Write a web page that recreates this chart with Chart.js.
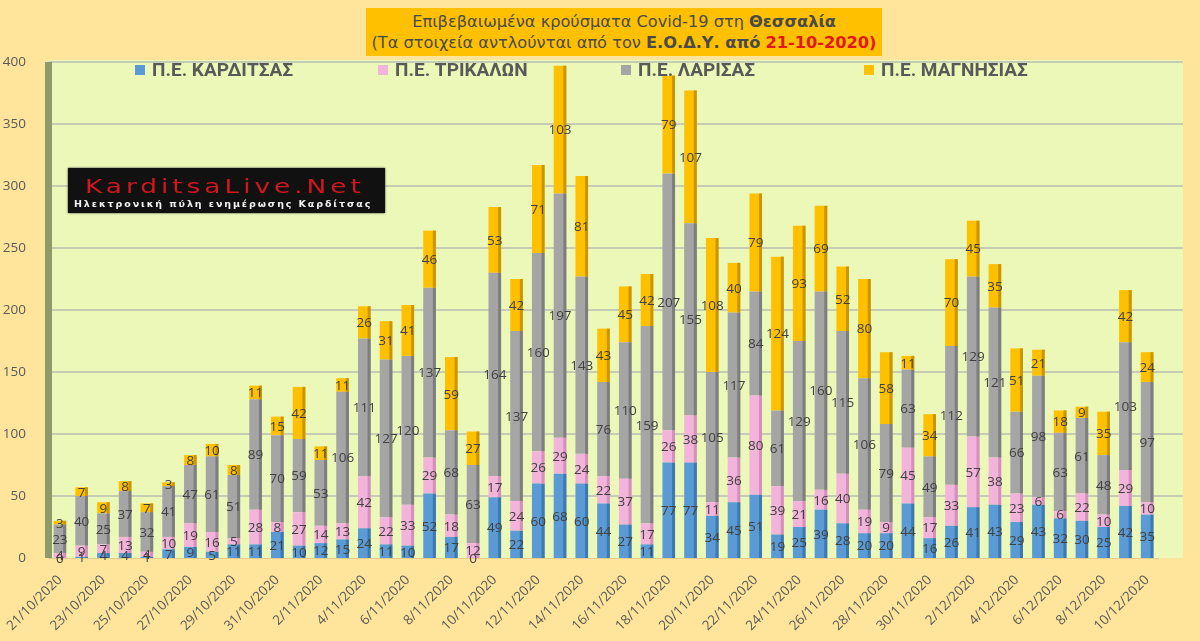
<!DOCTYPE html>
<html>
<head>
<meta charset="utf-8">
<script src="https://cdn.jsdelivr.net/npm/chart.js@4.4.1/dist/chart.umd.min.js"></script>
<style>
html,body{margin:0;padding:0;background:#FFE59B;width:1200px;height:641px;overflow:hidden;}
#wrap{position:relative;width:1200px;height:641px;}
#chart{position:absolute;left:0;top:0;}
#title{position:absolute;left:366px;top:8px;width:516px;height:48px;background:#FFC000;
  font-family:"DejaVu Sans",sans-serif;font-size:16.2px;line-height:21px;color:#4a4a4a;
  text-align:center;padding-top:3px;box-sizing:border-box;white-space:nowrap;}
#title .red{color:#E3161C;font-weight:bold;}
#logo{position:absolute;left:68px;top:168px;width:317px;height:45px;background:#111;box-shadow:0 0 2px #333;}
#logo .big{position:absolute;left:17px;top:6px;font-family:"DejaVu Sans",sans-serif;font-size:20px;
  letter-spacing:3px;color:#D0161E;transform:scaleX(1.32);transform-origin:left top;white-space:nowrap;}
#logo .small{position:absolute;left:6px;top:30px;font-family:"DejaVu Sans",sans-serif;font-weight:bold;
  font-size:9.5px;letter-spacing:1.9px;color:#f2f2f2;white-space:nowrap;}
</style>
</head>
<body>
<div id="wrap">
  <canvas id="chart" width="1200" height="641"></canvas>
  <div id="title">Επιβεβαιωμένα κρούσματα Covid-19 στη <b>Θεσσαλία</b><br>(Τα στοιχεία αντλούνται από τον <b>Ε.Ο.Δ.Υ. από</b> <span class="red">21-10-2020)</span></div>
  <div id="logo"><div class="big">KarditsaLive.Net</div><div class="small">Ηλεκτρονική πύλη ενημέρωσης Καρδίτσας</div></div>
</div>
<script>
// ---- DATA ----
const dates = [
  "21/10/2020","22/10/2020","23/10/2020","24/10/2020","25/10/2020","26/10/2020","27/10/2020","28/10/2020","29/10/2020","30/10/2020","31/10/2020",
  "1/11/2020","2/11/2020","3/11/2020","4/11/2020","5/11/2020","6/11/2020","7/11/2020","8/11/2020","9/11/2020","10/11/2020",
  "11/11/2020","12/11/2020","13/11/2020","14/11/2020","15/11/2020","16/11/2020","17/11/2020","18/11/2020","19/11/2020","20/11/2020",
  "21/11/2020","22/11/2020","23/11/2020","24/11/2020","25/11/2020","26/11/2020","27/11/2020","28/11/2020","29/11/2020","30/11/2020",
  "1/12/2020","2/12/2020","3/12/2020","4/12/2020","5/12/2020","6/12/2020","7/12/2020","8/12/2020","9/12/2020","10/12/2020"
];
const karditsa = [0,1,4,4,1,7,9,5,11,11,21, 10,12,15,24,11,10,52,17,0,49, 22,60,68,60,44,27,11,77,77,34, 45,51,19,25,39,28,20,20,44,16, 26,41,43,29,43,32,30,25,42,35];
const trikala  = [4,9,7,13,4,10,19,16,5,28,8, 27,14,13,42,22,33,29,18,12,17, 24,26,29,24,22,37,17,26,38,11, 36,80,39,21,16,40,19,9,45,17, 33,57,38,23,6,6,22,10,29,10];
const larisa   = [23,40,25,37,32,41,47,61,51,89,70, 59,53,106,111,127,120,137,68,63,164, 137,160,197,143,76,110,159,207,155,105, 117,84,61,129,160,115,106,79,63,49, 112,129,121,66,98,63,61,48,103,97];
const magnisia = [3,7,9,8,7,3,8,10,8,11,15, 42,11,11,26,31,41,46,59,27,53, 42,71,103,81,43,45,42,79,107,108, 40,79,124,93,69,52,80,58,11,34, 70,45,35,51,21,18,9,35,42,24];
const seriesNames = ["Π.Ε. ΚΑΡΔΙΤΣΑΣ","Π.Ε. ΤΡΙΚΑΛΩΝ","Π.Ε. ΛΑΡΙΣΑΣ","Π.Ε. ΜΑΓΝΗΣΙΑΣ"];
const yMin = 0, yMax = 400, yStep = 50;

// ---- STYLE ----
const colors = ["#5B9BD5","#F3B4DC","#A5A5A5","#FFC000"];
const shades = ["#3E78B0","#D48FBC","#7E7E7E","#C99600"];
const PLOT_BG = "#ECF8B8";
const GRID = "#C6CBB3";
const WALL = "#8E9A69";
const EXTRA_RIGHT = 25;

// software-backed 2D context (Chart.js reuses this same context)
const canvasEl = document.getElementById('chart');
canvasEl.getContext('2d', { willReadFrequently: true });

function drawGrid(chart, ctx){
  const ca = chart.chartArea, ys = chart.scales.y;
  ctx.fillStyle = GRID;
  for (let v = yMin + yStep; v <= yMax; v += yStep) {
    const py = Math.round(ys.getPixelForValue(v));
    ctx.fillRect(ca.left, py - 1, ca.width + EXTRA_RIGHT, 2);
  }
}

const bgPlugin = {
  id:'plotBg',
  beforeDatasetsDraw(chart){
    const ctx = chart.ctx, ca = chart.chartArea;
    ctx.save();
    ctx.fillStyle = PLOT_BG;
    ctx.fillRect(ca.left, ca.top - 2, ca.width + EXTRA_RIGHT, ca.height + 2);
    drawGrid(chart, ctx);
    ctx.fillStyle = WALL;
    ctx.fillRect(ca.left - 4, ca.top, 7, ca.height);
    ctx.restore();
    ctx.getImageData(Math.round(ca.left + 10), Math.round(ca.top + 10), 1, 1);
  },
  afterDraw(chart){
    const ctx = chart.ctx, ca = chart.chartArea;
    ctx.save();
    ctx.globalCompositeOperation = 'destination-over';
    drawGrid(chart, ctx);
    ctx.fillStyle = PLOT_BG;
    ctx.fillRect(ca.left, ca.top - 2, ca.width + EXTRA_RIGHT, ca.height + 2);
    ctx.restore();
  }
};

const barDecor = {
  id:'barDecor',
  afterDatasetsDraw(chart){
    const ctx = chart.ctx;
    ctx.save();
    chart.data.datasets.forEach((ds, di) => {
      const meta = chart.getDatasetMeta(di);
      meta.data.forEach(el => {
        const h = el.base - el.y;
        if (!(h > 0)) return;
        ctx.fillStyle = shades[di];
        ctx.fillRect(el.x + el.width / 2 - 3, el.y, 3, h);
      });
    });
    ctx.font = '13.5px "Open Sans", sans-serif';
    ctx.textAlign = 'center';
    ctx.textBaseline = 'middle';
    ctx.fillStyle = '#404040';
    chart.data.datasets.forEach((ds, di) => {
      const meta = chart.getDatasetMeta(di);
      meta.data.forEach((el, i) => {
        ctx.fillText(String(ds.data[i]), el.x, (el.y + el.base) / 2 + 1);
      });
    });
    ctx.restore();
  }
};

const legendPlugin = {
  id:'customLegend',
  afterDraw(chart){
    const ctx = chart.ctx;
    ctx.save();
    ctx.globalCompositeOperation = 'source-over';
    ctx.font = 'bold 19px "Liberation Sans Narrow", "Roboto", sans-serif';
    ctx.textBaseline = 'middle';
    ctx.textAlign = 'left';
    chart.data.datasets.forEach((ds, i) => {
      const x = 135 + i * 243, y = 70;
      ctx.fillStyle = colors[i];
      ctx.fillRect(x, y - 5, 10, 10);
      ctx.fillStyle = '#595959';
      ctx.fillText(ds.label, x + 17, y + 1);
    });
    ctx.restore();
  }
};

new Chart(canvasEl, {
  type: 'bar',
  data: {
    labels: dates,
    datasets: [karditsa, trikala, larisa, magnisia].map((d, i) => ({
      label: seriesNames[i],
      data: d,
      backgroundColor: colors[i],
      barPercentage: 0.58,
      categoryPercentage: 1
    }))
  },
  options: {
    responsive: false,
    animation: false,
    devicePixelRatio: 1,
    layout: { padding: { top: 62, right: 42 } },
    plugins: { legend: { display: false } },
    scales: {
      x: {
        stacked: true,
        grid: { display: false },
        afterFit: s => { s.height = 83; },
        ticks: {
          autoSkip: false,
          maxRotation: 45, minRotation: 45,
          padding: 6,
          color: '#595959',
          font: { family: '"Open Sans", sans-serif', size: 13.5 },
          callback: (v, i) => (i % 2 === 0 ? dates[i] : '')
        }
      },
      y: {
        stacked: true,
        min: yMin, max: yMax,
        grid: { display: false },
        afterFit: s => { s.width = 49; },
        ticks: {
          stepSize: yStep,
          padding: 15,
          color: '#595959',
          font: { family: '"Open Sans", sans-serif', size: 13.5 }
        }
      }
    }
  },
  plugins: [bgPlugin, barDecor, legendPlugin]
});
</script>
</body>
</html>
